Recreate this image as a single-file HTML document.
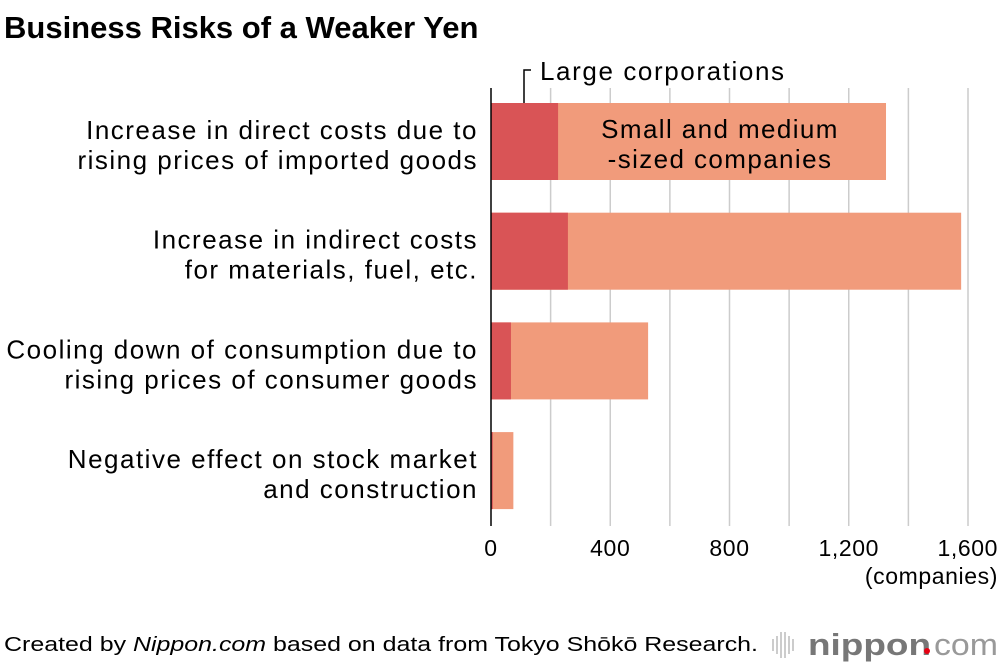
<!DOCTYPE html>
<html><head><meta charset="utf-8">
<style>
body{margin:0;background:#fff;width:1000px;height:664px;overflow:hidden;font-family:"Liberation Sans",sans-serif;}
svg text{font-family:"Liberation Sans",sans-serif;}
</style></head>
<body>
<svg width="1000" height="664" viewBox="0 0 1000 664">
<text x="4" y="38" font-size="31" font-weight="bold" fill="#000">Business Risks of a Weaker Yen</text>
<g id="grid"></g>
<g id="bars"></g>
<line x1="491" y1="88" x2="491" y2="526" stroke="#000" stroke-width="1.5"/>
<g id="cats"></g>
<g id="ticks"></g>
<text x="998" y="584" font-size="23" letter-spacing="0.6" text-anchor="end">(companies)</text>
<path d="M524 103 V70 H531" fill="none" stroke="#000" stroke-width="1.5"/>
<text x="540" y="80" font-size="26" letter-spacing="1.6">Large corporations</text>
<text x="720" y="138" font-size="26" letter-spacing="1.4" text-anchor="middle">Small and medium</text>
<text x="720" y="168" font-size="26" letter-spacing="1.4" text-anchor="middle">-sized companies</text>
<text x="4" y="651" font-size="20" textLength="754" lengthAdjust="spacingAndGlyphs">Created by <tspan font-style="italic">Nippon.com</tspan> based on data from Tokyo Shōkō Research.</text>
<g>
<g stroke="#bbb" stroke-width="1.5">
<line x1="773" y1="639" x2="773" y2="651"/><line x1="777" y1="636" x2="777" y2="654"/><line x1="781" y1="632" x2="781" y2="658"/><line x1="785" y1="632" x2="785" y2="658"/><line x1="789" y1="636" x2="789" y2="654"/><line x1="793" y1="639" x2="793" y2="651"/></g>
<text x="808" y="655" font-size="31" font-weight="bold" fill="#777" textLength="123" lengthAdjust="spacingAndGlyphs">nippon</text>
<circle cx="927" cy="651" r="3" fill="#e60012"/>
<text x="934" y="655" font-size="31" fill="#999" textLength="64" lengthAdjust="spacingAndGlyphs">com</text>
</g>
</svg>
<script>
const categories1=["Increase in direct costs due to","Increase in indirect costs","Cooling down of consumption due to","Negative effect on stock market"];
const categories2=["rising prices of imported goods","for materials, fuel, etc.","rising prices of consumer goods","and construction"];
const largeCorp=[225,258,67,6];
const totalCompanies=[1325,1577,527,75];
const tickValues=[0,400,800,1200,1600];
const tickLabels=["0","400","800","1,200","1,600"];
const gridValues=[200,400,600,800,1000,1200,1400,1600];
const NS="http://www.w3.org/2000/svg";
const x0=491,xs=(968-491)/1600;
const X=v=>x0+v*xs;
const bandTop=103,bandStep=109.7,barH=77;
function mk(t,a,p){const e=document.createElementNS(NS,t);for(const k in a)e.setAttribute(k,a[k]);p.appendChild(e);return e;}
const grid=document.getElementById('grid');
gridValues.forEach(v=>{
 const l=mk('line',{x1:X(v),x2:X(v),y1:88,y2:526,stroke:'#ccc','stroke-width':1.5},grid);
 
 
});
const bars=document.getElementById('bars'),cats=document.getElementById('cats');
totalCompanies.forEach((t,i)=>{
 const y=bandTop+i*bandStep;
 const r1=mk('rect',{x:X(0),y:y,width:X(t)-X(0),height:barH,fill:'#f19b7b'},bars);
 
 
 const r2=mk('rect',{x:X(0),y:y,width:X(largeCorp[i])-X(0),height:barH,fill:'#d95456'},bars);
 
 
 const a=mk('text',{x:478,y:y+36,'font-size':26,'letter-spacing':1.5,'text-anchor':'end'},cats);a.textContent=categories1[i];
 
 
 const b=mk('text',{x:478,y:y+66,'font-size':26,'letter-spacing':1.5,'text-anchor':'end'},cats);b.textContent=categories2[i];
 
 
});
const ticks=document.getElementById('ticks');
tickValues.forEach((v,i)=>{
 const last=i===tickValues.length-1;
 const t=mk('text',{x:last?998:X(v),y:556,'font-size':23,'letter-spacing':0.6,'text-anchor':last?'end':'middle'},ticks);t.textContent=tickLabels[i];
 
 
});
</script>
</body></html>
